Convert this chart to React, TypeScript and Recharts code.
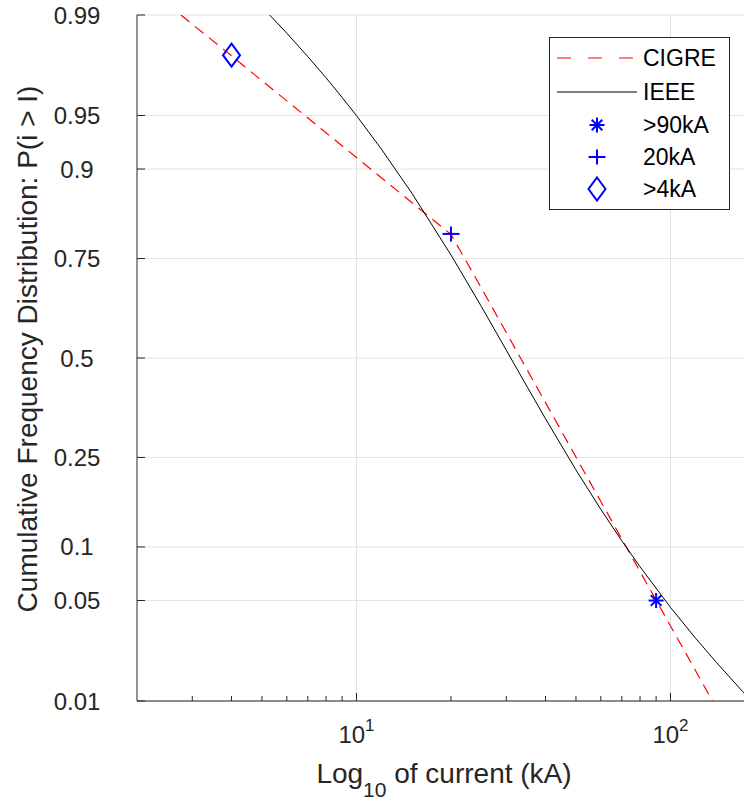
import React from 'react';
import { ComposedChart, Line, Scatter, XAxis, YAxis, CartesianGrid, ReferenceLine, Legend } from 'recharts';

// CIGRE curve: current (kA) and P(i > I)
const cigreCurrent = [2.76, 3, 4, 5, 6, 8, 10, 12, 15, 20, 25, 30, 40, 50, 60, 70, 80, 90, 100, 120, 136];
const cigreProb = [0.99, 0.9882, 0.9798, 0.97, 0.9594, 0.9367, 0.913, 0.8893, 0.8542, 0.799, 0.6822, 0.5685, 0.381, 0.2508, 0.1652, 0.1098, 0.0737, 0.0502, 0.0346, 0.0171, 0.01];

// IEEE curve
const ieeeCurrent = [5.29, 6, 7, 8, 9, 10, 12, 15, 20, 25, 31, 35, 40, 50, 60, 70, 80, 100, 120, 140, 170, 181.5];
const ieeeProb = [0.99, 0.9862, 0.9795, 0.9713, 0.9614, 0.9499, 0.9218, 0.8684, 0.7576, 0.6363, 0.5, 0.4218, 0.3401, 0.2239, 0.1523, 0.1074, 0.0784, 0.0454, 0.0288, 0.0195, 0.0118, 0.01];

// Markers
const markerNames = ['>90kA', '20kA', '>4kA'];
const markerCurrent = [90, 20, 4];
const markerProb = [0.05, 0.8, 0.98];

// Ticks
const yTickProbs = [0.01, 0.05, 0.1, 0.25, 0.5, 0.75, 0.9, 0.95, 0.99];
const xMajorTicks = [10, 100];
const xMinorTicks = [3, 4, 5, 6, 7, 8, 9, 20, 30, 40, 50, 60, 70, 80, 90];

// inverse normal CDF (probability-paper scale)
function probit(p: number): number {
  const a = [-3.969683028665376e1, 2.209460984245205e2, -2.759285104469687e2, 1.38357751867269e2, -3.066479806614716e1, 2.506628277459239];
  const b = [-5.447609879822406e1, 1.615858368580409e2, -1.556989798598866e2, 6.680131188771972e1, -1.328068155288572e1];
  const c = [-7.784894002430293e-3, -3.223964580411365e-1, -2.400758277161838, -2.549732539343734, 4.374664141464968, 2.938163982698783];
  const d = [7.784695709041462e-3, 3.224671290700398e-1, 2.445134137142996, 3.754408661907416];
  const plow = 0.02425;
  if (p < plow) {
    const q = Math.sqrt(-2 * Math.log(p));
    return (((((c[0] * q + c[1]) * q + c[2]) * q + c[3]) * q + c[4]) * q + c[5]) / ((((d[0] * q + d[1]) * q + d[2]) * q + d[3]) * q + 1);
  }
  if (p > 1 - plow) {
    const q = Math.sqrt(-2 * Math.log(1 - p));
    return -(((((c[0] * q + c[1]) * q + c[2]) * q + c[3]) * q + c[4]) * q + c[5]) / ((((d[0] * q + d[1]) * q + d[2]) * q + d[3]) * q + 1);
  }
  const q = p - 0.5;
  const r = q * q;
  return (((((a[0] * r + a[1]) * r + a[2]) * r + a[3]) * r + a[4]) * r + a[5]) * q / (((((b[0] * r + b[1]) * r + b[2]) * r + b[3]) * r + b[4]) * r + 1);
}

const cigreData = cigreCurrent.map((c, k) => ({ i: c, z: probit(cigreProb[k]) }));
const ieeeData = ieeeCurrent.map((c, k) => ({ i: c, z: probit(ieeeProb[k]) }));
const markerData = markerCurrent.map((c, k) => [{ i: c, z: probit(markerProb[k]), name: markerNames[k] }]);

const FONT = 'Liberation Sans, Arial, Helvetica, sans-serif';
const AXIS = '#262626';
const BLUE = '#0000ff';
const GRID = '#e3e3e3';

const Asterisk = (props: any) => {
  const { cx, cy } = props;
  const r = 7.5;
  const s = r * 0.7071;
  return (
    <g stroke={BLUE} strokeWidth={2} fill="none">
      <line x1={cx - r} y1={cy} x2={cx + r} y2={cy} />
      <line x1={cx} y1={cy - r} x2={cx} y2={cy + r} />
      <line x1={cx - s} y1={cy - s} x2={cx + s} y2={cy + s} />
      <line x1={cx - s} y1={cy + s} x2={cx + s} y2={cy - s} />
    </g>
  );
};
const Plus = (props: any) => {
  const { cx, cy } = props;
  return (
    <g stroke={BLUE} strokeWidth={2} fill="none">
      <line x1={cx - 8.5} y1={cy} x2={cx + 8.5} y2={cy} />
      <line x1={cx} y1={cy - 7.5} x2={cx} y2={cy + 7.5} />
    </g>
  );
};
const Diamond = (props: any) => {
  const { cx, cy } = props;
  const w = 8.5;
  const h = 11.5;
  return (
    <path d={`M${cx},${cy - h} L${cx + w},${cy} L${cx},${cy + h} L${cx - w},${cy} Z`} stroke={BLUE} strokeWidth={2} fill="none" />
  );
};
const shapes = [Asterisk, Plus, Diamond];

const BottomTick = (props: any) => {
  const { x, y, payload } = props;
  const v = payload.value;
  const major = xMajorTicks.includes(v);
  const exp = Math.round(Math.log10(v));
  return (
    <g>
      <line x1={x} y1={y} x2={x} y2={y - (major ? 8 : 5)} stroke={AXIS} strokeWidth={1} />
      {major && (
        <text x={x} y={y + 42} textAnchor="middle" fontFamily={FONT} fontSize={24} fill={AXIS}>
          <tspan>10</tspan>
          <tspan dy={-12} fontSize={17}>{exp}</tspan>
        </text>
      )}
    </g>
  );
};

const TopTick = (props: any) => {
  const { x, y, payload } = props;
  const major = xMajorTicks.includes(payload.value);
  return <line x1={x} y1={y} x2={x} y2={y + (major ? 8 : 5)} stroke={AXIS} strokeWidth={1} />;
};

const LeftTick = (props: any) => {
  const { x, y, payload } = props;
  const idx = yTickProbs.findIndex((p) => Math.abs(probit(p) - payload.value) < 1e-6);
  const label = idx >= 0 ? String(yTickProbs[idx]) : '';
  return (
    <g>
      <line x1={x} y1={y} x2={x + 8} y2={y} stroke={AXIS} strokeWidth={1} />
      <text x={x - 60} y={y} dy={8.5} textAnchor="middle" fontFamily={FONT} fontSize={24} fill={AXIS}>
        {label}
      </text>
    </g>
  );
};

const YLabel = () => (
  <text x={0} y={0} transform="translate(37,349) rotate(-90)" textAnchor="middle" fontFamily={FONT} fontSize={28} fill={AXIS}>
    Cumulative Frequency Distribution: P(i &gt; I)
  </text>
);

const XLabel = () => (
  <text x={444} y={783} textAnchor="middle" fontFamily={FONT} fontSize={28} fill={AXIS}>
    <tspan>Log</tspan>
    <tspan dy={14} fontSize={21}>10</tspan>
    <tspan dy={-14}> of current (kA)</tspan>
  </text>
);

const LegendBox = () => {
  const rows = [
    { label: 'CIGRE', kind: 'dash' },
    { label: 'IEEE', kind: 'solid' },
    { label: markerNames[0], kind: 0 },
    { label: markerNames[1], kind: 1 },
    { label: markerNames[2], kind: 2 },
  ];
  const rowY = [21, 55, 88, 120, 152];
  return (
    <svg width={181} height={173} style={{ display: 'block' }}>
      <rect x={0.5} y={0.5} width={180} height={172} fill="#ffffff" stroke={AXIS} strokeWidth={1} />
      {rows.map((r, k) => {
        const yy = rowY[k];
        let sample: any = null;
        if (r.kind === 'dash') sample = <line x1={8} y1={yy} x2={88} y2={yy} stroke="#ff0000" strokeWidth={1.2} strokeDasharray="14 17" />;
        else if (r.kind === 'solid') sample = <line x1={8} y1={yy} x2={88} y2={yy} stroke="#000000" strokeWidth={1} />;
        else {
          const S = shapes[r.kind as number];
          sample = <S cx={48} cy={yy} />;
        }
        return (
          <g key={r.label}>
            {sample}
            <text x={94} y={yy + 8} fontFamily={FONT} fontSize={23} fill="#000">
              {r.label}
            </text>
          </g>
        );
      })}
    </svg>
  );
};

export default function App() {
  const zMin = probit(0.01);
  const zMax = probit(0.99);
  return (
    <div style={{ position: 'absolute', left: 0, top: 0, width: 744, height: 801, overflow: 'hidden', background: '#fff' }}>
      <ComposedChart width={770} height={801} margin={{ top: 15, right: 5, bottom: 40, left: 77 }}>
        <CartesianGrid vertical={false} stroke={GRID} strokeWidth={1} />
        <ReferenceLine x={10} stroke={GRID} strokeWidth={1} ifOverflow="hidden" />
        <ReferenceLine x={100} stroke={GRID} strokeWidth={1} ifOverflow="hidden" />
        <XAxis
          dataKey="i"
          type="number"
          scale="log"
          domain={[2, 200]}
          allowDataOverflow
          ticks={[...xMinorTicks, ...xMajorTicks].sort((a, b) => a - b)}
          interval={0}
          tick={<BottomTick />}
          tickLine={false}
          tickSize={0}
          tickMargin={0}
          height={60}
          axisLine={{ stroke: AXIS, strokeWidth: 1 }}
        />
        <XAxis
          xAxisId="top"
          orientation="top"
          dataKey="i"
          type="number"
          scale="log"
          domain={[2, 200]}
          allowDataOverflow
          ticks={[...xMinorTicks, ...xMajorTicks].sort((a, b) => a - b)}
          interval={0}
          tick={<TopTick />}
          tickLine={false}
          tickSize={0}
          tickMargin={0}
          height={0}
          axisLine={{ stroke: AXIS, strokeWidth: 1 }}
        />
        <YAxis
          type="number"
          domain={[zMin, zMax]}
          allowDataOverflow
          ticks={yTickProbs.map(probit)}
          interval={0}
          tick={<LeftTick />}
          tickLine={false}
          tickSize={0}
          tickMargin={0}
          width={60}
          axisLine={{ stroke: AXIS, strokeWidth: 1 }}
          label={<YLabel />}
        />
        <Legend
          layout="vertical"
          align="center"
          verticalAlign="middle"
          content={<LegendBox />}
          wrapperStyle={{ position: 'absolute', left: 549, top: 37, width: 181, height: 173 }}
        />
        <Line data={cigreData} dataKey="z" name="CIGRE" type="linear" stroke="#ff0000" strokeWidth={1.2} strokeDasharray="11 7" dot={false} isAnimationActive={false} />
        <Line data={ieeeData} dataKey="z" name="IEEE" type="linear" stroke="#000000" strokeWidth={1} dot={false} isAnimationActive={false} />
        {markerData.map((d, k) => (
          <Scatter key={markerNames[k]} data={d} dataKey="z" name={markerNames[k]} shape={shapes[k]} isAnimationActive={false} />
        ))}
      </ComposedChart>
      <svg width={744} height={801} style={{ position: 'absolute', left: 0, top: 0, pointerEvents: 'none' }}>
        <XLabel />
      </svg>
    </div>
  );
}
